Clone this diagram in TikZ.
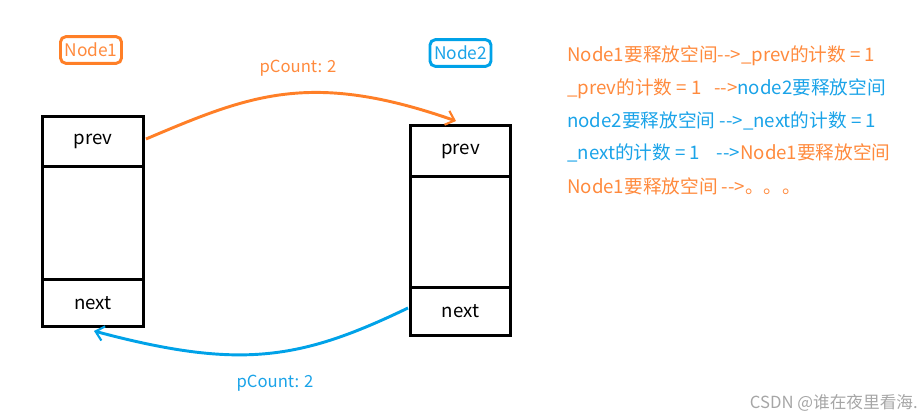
\documentclass[tikz,border=0pt]{standalone}
\usepackage{fontspec}
\setmainfont{Noto Sans CJK SC}
\usetikzlibrary{arrows.meta}
\definecolor{orgline}{HTML}{FF7F27}
\definecolor{orgtext}{HTML}{FF8A3D}
\definecolor{blueline}{HTML}{00A2E8}
\definecolor{bluetext}{HTML}{1AA3E8}
\newcommand{\arr}{-{}-{}>}
\begin{document}
\begin{tikzpicture}[x=0.75pt,y=-0.75pt,
  cell/.style={minimum width=75pt,inner sep=0pt,font=\fontsize{14}{16}\selectfont},
  frame/.style={draw=black,line width=2.2pt},
  tag/.style={draw,line width=2.2pt,rounded corners=4pt,inner xsep=3pt,minimum height=20pt,font=\fontsize{13}{15}\selectfont},
  link/.style={line width=2.2pt,-{Straight Barb[length=6pt,width=11pt,line width=1.6pt]}},
  cnt/.style={font=\fontsize{12.5}{14}\selectfont},
  note/.style={anchor=west,inner sep=0pt,font=\fontsize{14}{16}\selectfont}]
\useasboundingbox (0,0) rectangle (922,417);
% left node
\node[cell,minimum height=36.75pt] (lp) at (93,141.5) {prev};
\node[cell,minimum height=84.75pt,anchor=north] (lm) at (lp.south) {};
\node[cell,minimum height=34.5pt,anchor=north] (ln) at (lm.south) {next};
\draw[frame] (lp.north west) rectangle (ln.south east);
\draw[frame] (lp.south west) -- (lp.south east);
\draw[frame] (ln.north west) -- (ln.north east);
% right node
\node[cell,minimum height=37.5pt] (rp) at (460.5,151) {prev};
\node[cell,minimum height=83.25pt,anchor=north] (rm) at (rp.south) {};
\node[cell,minimum height=35.25pt,anchor=north] (rn) at (rm.south) {next};
\draw[frame] (rp.north west) rectangle (rn.south east);
\draw[frame] (rp.south west) -- (rp.south east);
\draw[frame] (rn.north west) -- (rn.north east);
% tags
\node[tag,draw=orgline,text=orgtext] (t1) at (91,50) {Node1};
\node[tag,draw=blueline,text=bluetext] (t2) at (460.5,53) {Node2};
% arrows
\coordinate (a1) at (146,139);
\coordinate (a2) at (456,121);
\draw[link,orgline] (a1) .. controls (250,95) and (310,70) .. (a2);
\node[cnt,text=orgtext] (c1) at (298,68) {pCount: 2};
\coordinate (b1) at (408,308);
\coordinate (b2) at (94,331);
\draw[link,blueline] (b1) .. controls (300,360) and (240,370) .. (b2);
\node[cnt,text=bluetext] (c2) at (275,383) {pCount: 2};
% notes
\node[note,text=orgtext] (n1) at (567,56) {Node1要释放空间\arr\_prev的计数 = 1};
\node[note] (n2) at (567,89) {\textcolor{orgtext}{\_prev的计数 = 1\ \ \ \arr}\textcolor{bluetext}{node2要释放空间}};
\node[note,text=bluetext] (n3) at (567,121) {node2要释放空间 \arr\_next的计数 = 1};
\node[note] (n4) at (567,153) {\textcolor{bluetext}{\_next的计数 = 1\ \ \ \ \arr}\textcolor{orgtext}{Node1要释放空间}};
\node[note,text=orgtext] (n5) at (567,186) {Node1要释放空间 \arr。。。};
% watermark
\node[anchor=east,inner sep=0pt,text=black!35,font=\fontsize{12.5}{14}\selectfont] (wm) at (918,403) {CSDN @谁在夜里看海.};
\end{tikzpicture}
\end{document}
